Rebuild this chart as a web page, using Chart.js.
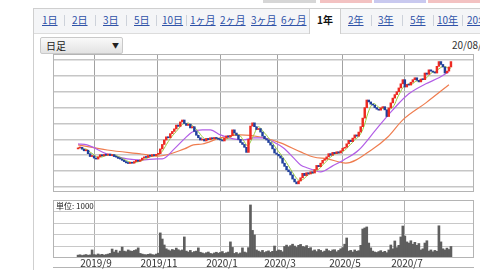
<!DOCTYPE html>
<html>

<head>
    <title>1年 日足</title>
    <meta charset="utf-8">
    <script src="https://cdn.jsdelivr.net/npm/chart.js"></script>
    <style>
        body { margin: 0; width: 480px; height: 270px; overflow: hidden; background: #fff; position: relative;
               font-family: "Noto Sans CJK JP", "Noto Sans", sans-serif; }
        .abs { position: absolute; }
        .btn { position: absolute; top: 0; height: 3px; }
        .tabbar { position: absolute; left: 33px; top: 8px; width: 460px; height: 24px; background: #f4f5f7;
                  border-top: 1px solid #cfcfcf; border-bottom: 1px solid #dcdcdc; }
        .panel { position: absolute; left: 33px; top: 8px; width: 1px; height: 262px; background: #cfcfcf; }
        .tab { position: absolute; top: 13px; font-size: 10px; line-height: 13px; color: #2f52a8; text-decoration: underline; white-space: nowrap; }
        .sep { position: absolute; top: 15px; width: 1px; height: 11px; background: #cdd2da; }
        .sel { position: absolute; left: 309px; top: 9px; width: 30px; height: 25px; background: #fff;
               border-left: 1px solid #cfcfcf; border-right: 1px solid #cfcfcf; }
        .frame { position: absolute; border: 1px solid #b4b4b4; box-sizing: border-box; pointer-events: none; }
        canvas { position: absolute; }
        .xl { position: absolute; top: 257px; font-size: 10px; line-height: 12px; color: #333; transform: translateX(-50%); }
    </style>
</head>

<body>
    <div class="btn" style="left:263px;width:53px;background:#d6d6d6;"></div>
    <div class="btn" style="left:320px;width:52px;background:#f3c2c2;"></div>
    <div class="btn" style="left:374px;width:52px;background:#c9c9ef;"></div>
    <div class="btn" style="left:428px;width:52px;background:#f3c2c2;"></div>

    <div class="tabbar"></div>
    <div class="panel"></div>
    <div class="sel"></div>
    <span class="tab" style="left:42px">1日</span>
    <span class="tab" style="left:72px">2日</span>
    <span class="tab" style="left:103px">3日</span>
    <span class="tab" style="left:134px">5日</span>
    <span class="tab" style="left:162px">10日</span>
    <span class="tab" style="left:190px">1ヶ月</span>
    <span class="tab" style="left:220px">2ヶ月</span>
    <span class="tab" style="left:251px">3ヶ月</span>
    <span class="tab" style="left:281px">6ヶ月</span>
    <span class="tab" style="left:317px;color:#111;font-weight:bold;text-decoration:none">1年</span>
    <span class="tab" style="left:348px">2年</span>
    <span class="tab" style="left:378px">3年</span>
    <span class="tab" style="left:410px">5年</span>
    <span class="tab" style="left:437px">10年</span>
    <span class="tab" style="left:467px">20年</span>
    <div class="sep" style="left:64px"></div>
    <div class="sep" style="left:95px"></div>
    <div class="sep" style="left:126px"></div>
    <div class="sep" style="left:156px"></div>
    <div class="sep" style="left:186px"></div>
    <div class="sep" style="left:371px"></div>
    <div class="sep" style="left:402px"></div>
    <div class="sep" style="left:433px"></div>
    <div class="sep" style="left:462px"></div>

    <div class="abs" style="left:40px;top:37px;width:81px;height:15px;border:1px solid #c9c9c9;border-radius:2px;
         background:linear-gradient(#f9f9f9,#e3e3e3);font-size:10px;line-height:15px;color:#222;">
        <span style="position:absolute;left:5px">日足</span>
        <span style="position:absolute;left:71px;font-size:7px">▼</span>
    </div>
    <div class="abs" style="left:452px;top:38px;font-size:10px;line-height:13px;color:#333;white-space:nowrap">20/08/14</div>

    <canvas id="priceChart" width="421" height="138" style="left:53px;top:54px"></canvas>
    <div class="frame" style="left:53px;top:54px;width:421px;height:138px"></div>

    <canvas id="volChart" width="421" height="58" style="left:53px;top:200px"></canvas>
    <div class="frame" style="left:53px;top:200px;width:421px;height:58px"></div>
    <div class="abs" style="left:56px;top:201px;font-size:8px;line-height:10px;color:#222">単位: 1000</div>
    <div class="abs" style="left:53px;top:267px;width:421px;height:1px;background:#b4b4b4"></div>

    <span class="xl" style="left:96px">2019/9</span>
    <span class="xl" style="left:159px">2019/11</span>
    <span class="xl" style="left:222px">2020/1</span>
    <span class="xl" style="left:280px">2020/3</span>
    <span class="xl" style="left:345px">2020/5</span>
    <span class="xl" style="left:407px">2020/7</span>

    <script>
        // daily closes, index 0 = 2019/8 late, last = 2020/8
        const closes = [
            1246, 1250, 1238, 1228, 1232, 1210, 1192, 1196, 1182, 1176,
            1190, 1203, 1196, 1205, 1200, 1208, 1198, 1204, 1192, 1188,
            1180, 1176, 1168, 1160, 1152, 1148, 1156, 1150, 1160, 1168,
            1162, 1170, 1182, 1190, 1186, 1198, 1194, 1204, 1198, 1206,
            1210, 1240, 1268, 1296, 1316, 1310, 1336, 1350, 1366, 1390,
            1382, 1410, 1422, 1400, 1388, 1396, 1372, 1380, 1350, 1326,
            1310, 1296, 1300, 1290, 1306, 1298, 1310, 1304, 1312, 1306,
            1300, 1296, 1290, 1308, 1322, 1316, 1324, 1360, 1340, 1326,
            1300, 1280, 1268, 1250, 1218, 1300, 1384, 1404, 1380, 1362,
            1368, 1346, 1320, 1304, 1296, 1280, 1264, 1240, 1214, 1206,
            1196, 1182, 1150, 1130, 1108, 1096, 1076, 1050, 1032, 1020,
            1038, 1058, 1086, 1072, 1090, 1082, 1096, 1088, 1110, 1136,
            1128, 1150, 1168, 1176, 1190, 1210, 1200, 1218, 1210, 1222,
            1214, 1228, 1244, 1250, 1272, 1294, 1286, 1308, 1328, 1320,
            1346, 1380, 1434, 1500, 1548, 1536, 1522, 1516, 1500, 1490,
            1484, 1498, 1506, 1486, 1444, 1498, 1530, 1560, 1582, 1600,
            1624, 1650, 1676, 1630, 1646, 1642, 1660, 1676, 1688, 1672,
            1662, 1680, 1676, 1718, 1710, 1738, 1730, 1724, 1718, 1760,
            1790, 1772, 1756, 1718, 1730, 1756, 1790
        ];
        const firstOpen = 1240;

        // volume, unit 1000
        const volumes = [
            25, 28, 22, 26, 30, 24, 27, 70, 30, 26,
            35, 28, 32, 25, 30, 34, 40, 78, 52, 68,
            44, 60, 95, 60, 55, 70, 62, 58, 66, 72,
            88, 40, 34, 30, 28, 32, 36, 30, 26, 34,
            42, 218, 165, 113, 80, 70, 62, 74, 68, 86,
            72, 64, 70, 183, 60, 52, 66, 48, 56, 60,
            88, 50, 44, 38, 46, 52, 40, 36, 44, 50,
            42, 48, 56, 40, 46, 52, 140, 92, 40, 48,
            36, 44, 88, 52, 46, 90, 461, 240, 200, 70,
            60, 52, 66, 48, 56, 62, 50, 58, 104, 60,
            70, 66, 54, 100, 112, 96, 108, 120, 104, 92,
            110, 118, 100, 96, 108, 84, 90, 62, 70, 56,
            74, 66, 52, 60, 78, 64, 58, 70, 72, 54,
            66, 80, 90, 120, 174, 60, 66, 52, 70, 58,
            64, 110, 252, 261, 270, 130, 88, 60, 52, 48,
            56, 64, 50, 58, 46, 70, 113, 80, 148, 90,
            110, 183, 278, 191, 140, 130, 150, 120, 136, 110,
            126, 70, 80, 130, 150, 60, 70, 54, 66, 58,
            280, 140, 80, 70, 86, 74, 100
        ];

        // 25-day average (purple)
        const ma25Idx = [0, 4.5, 14.5, 24.5, 31.5, 39.5, 42, 48, 53, 57, 62, 66, 71, 77.5, 82.5, 87.5, 92.5,
            97.5, 102.5, 107.5, 111, 114.5, 117.5, 121, 127, 132.5, 140, 148.5, 157, 165, 173.5, 180, 185];
        const ma25Val = [1272, 1265, 1208, 1177, 1170, 1177, 1177, 1240, 1303, 1347, 1360, 1360, 1328, 1303, 1297, 1309, 1309,
            1284, 1246, 1183, 1139, 1120, 1107, 1095, 1133, 1170, 1233, 1360, 1486, 1587, 1650, 1688, 1726];

        // 75-day average (orange)
        const ma75Idx = [0, 14.5, 31.5, 40, 53, 57.5, 62, 71, 81, 91, 101, 111, 117.5, 124.5, 133.5, 147, 154.5, 162, 173.5, 185];
        const ma75Val = [1265, 1233, 1208, 1195, 1240, 1265, 1271, 1309, 1328, 1315, 1278, 1221, 1189, 1177, 1151, 1240, 1315, 1423, 1530, 1644];

        const monthPos = [8, 39.5, 71, 99.5, 132, 163];   // 2019/9 ... 2020/7
        const priceLines = [1000, 1100, 1200, 1300, 1400, 1500, 1600, 1700, 1800];
        const volLines = [100, 200, 300, 400];

        const candles = closes.map((c, i) => ({ x: i, y: [i === 0 ? firstOpen : closes[i - 1], c] }));
        const candleColors = candles.map(d => d.y[1] >= d.y[0] ? '#ee2a22' : '#1f3f9c');
        const ma5 = closes.map((c, i) => {
            const part = closes.slice(Math.max(0, i - 4), i + 1);
            return { x: i, y: part.reduce((a, b) => a + b, 0) / part.length };
        });

        const xScale = (gridColor) => ({
            type: 'linear', min: -12.5, max: 197.5, offset: false,
            grid: { offset: false, color: gridColor, lineWidth: 1, drawTicks: false },
            border: { display: false },
            ticks: { display: false },
            afterBuildTicks: s => { s.ticks = monthPos.map(v => ({ value: v })); }
        });

        new Chart(document.getElementById('priceChart'), {
            type: 'bar',
            data: {
                datasets: [
                    {
                        label: 'candles', data: candles, backgroundColor: candleColors,
                        barThickness: 1.8, minBarLength: 1, order: 0
                    },
                    {
                        type: 'line', label: 'ma5', data: ma5, borderColor: '#9acb3c', borderWidth: 1,
                        pointRadius: 0, tension: 0.3, order: 1
                    },
                    {
                        type: 'line', label: 'ma25', data: ma25Idx.map((x, i) => ({ x: x, y: ma25Val[i] })),
                        borderColor: '#b25ee6', borderWidth: 1.2, pointRadius: 0,
                        cubicInterpolationMode: 'monotone', order: 2
                    },
                    {
                        type: 'line', label: 'ma75', data: ma75Idx.map((x, i) => ({ x: x, y: ma75Val[i] })),
                        borderColor: '#ef7d4f', borderWidth: 1.2, pointRadius: 0,
                        cubicInterpolationMode: 'monotone', order: 3
                    }
                ]
            },
            options: {
                responsive: false, animation: false, devicePixelRatio: 1,
                layout: { padding: 0 },
                plugins: { legend: { display: false }, tooltip: { enabled: false } },
                scales: {
                    x: xScale('#a2a2a2'),
                    y: {
                        min: 968.5, max: 1837.8,
                        grid: { color: '#c6c6c6', lineWidth: 1.5, drawTicks: false },
                        border: { display: false },
                        ticks: { display: false },
                        afterBuildTicks: s => { s.ticks = priceLines.map(v => ({ value: v })); }
                    }
                }
            }
        });

        new Chart(document.getElementById('volChart'), {
            type: 'bar',
            data: {
                datasets: [{
                    label: 'volume', data: volumes.map((v, i) => ({ x: i, y: v })),
                    backgroundColor: '#5e5e5e', barThickness: 2
                }]
            },
            options: {
                responsive: false, animation: false, devicePixelRatio: 1,
                layout: { padding: 0 },
                plugins: { legend: { display: false }, tooltip: { enabled: false } },
                scales: {
                    x: xScale('#b0b0b0'),
                    y: {
                        min: 0, max: 504,
                        grid: { color: '#c8c8c8', lineWidth: 1, drawTicks: false },
                        border: { display: false },
                        ticks: { display: false },
                        afterBuildTicks: s => { s.ticks = volLines.map(v => ({ value: v })); }
                    }
                }
            }
        });
    </script>
</body>

</html>
